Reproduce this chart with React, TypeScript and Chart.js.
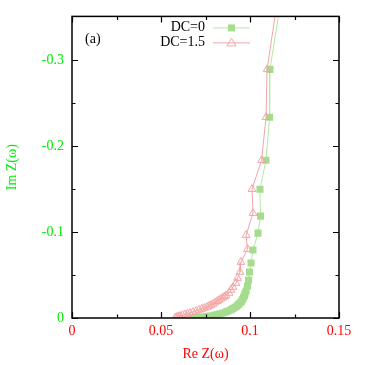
import React, { useEffect, useRef } from "react";
import { Chart, registerables } from "chart.js";

Chart.register(...registerables);

// DC = 0 series (Re Z, Im Z)
const dc0Re = [0.1174, 0.1112, 0.111, 0.109, 0.1056, 0.1059, 0.1045, 0.1017, 0.1006, 0.0997, 0.0992, 0.0986, 0.0978, 0.0972, 0.0969, 0.0963, 0.0958, 0.0952, 0.0944, 0.0935, 0.0927, 0.0916, 0.0904, 0.0893, 0.0876, 0.0865, 0.0848, 0.0831, 0.0815, 0.0795, 0.0775, 0.0756, 0.0736, 0.0719, 0.0702, 0.0688, 0.0674];
const dc0Im = [-0.37, -0.2895, -0.2337, -0.1837, -0.15, -0.1186, -0.0988, -0.0791, -0.064, -0.0535, -0.0442, -0.0372, -0.0314, -0.0285, -0.0262, -0.0238, -0.0215, -0.0192, -0.0174, -0.0157, -0.014, -0.0126, -0.011, -0.0095, -0.0081, -0.007, -0.0058, -0.0049, -0.0041, -0.0031, -0.0023, -0.0017, -0.0012, -0.0006, -0.0002, 0.0, 0.0];

// DC = 1.5 series (Re Z, Im Z)
const dc15Re = [0.1154, 0.1096, 0.109, 0.1065, 0.1011, 0.1017, 0.0978, 0.0986, 0.0949, 0.0944, 0.093, 0.0921, 0.0904, 0.0893, 0.0882, 0.0865, 0.0857, 0.0848, 0.0837, 0.0826, 0.0815, 0.0803, 0.0792, 0.0781, 0.077, 0.0758, 0.0744, 0.073, 0.0713, 0.0697, 0.068, 0.0663, 0.0649, 0.0635, 0.0621, 0.0607, 0.0598, 0.059, 0.0581];
const dc15Im = [-0.37, -0.2895, -0.2337, -0.1837, -0.15, -0.1221, -0.0965, -0.0802, -0.0651, -0.0535, -0.0465, -0.0407, -0.036, -0.0326, -0.0291, -0.0262, -0.025, -0.0238, -0.0223, -0.0209, -0.0195, -0.018, -0.0165, -0.0151, -0.014, -0.0128, -0.0116, -0.0105, -0.0093, -0.0081, -0.007, -0.0058, -0.0049, -0.0041, -0.0033, -0.0023, -0.0017, -0.0012, -0.0006];

const seriesNames = ["DC=0", "DC=1.5"];
const xTickValues = [0, 0.05, 0.1, 0.15];
const xTickLabels = ["0", "0.05", "0.1", "0.15"];
const xMinorValues = [0.025, 0.075, 0.125];
const yTickValues = [0, -0.1, -0.2, -0.3];
const yTickLabels = ["0", "-0.1", "-0.2", "-0.3"];
const yMinorValues = [-0.05, -0.15, -0.25];
const xTitle = "Re Z(ω)";
const yTitle = "Im Z(ω)";
const panelLabel = "(a)";

const GREEN_TEXT = "#00ee00";
const RED_TEXT = "#ff0000";
const GREEN_LINE = "#b4e8a4";
const GREEN_MARK = "#a6dc8e";
const RED_LINE = "#f4a4a4";
const FONT = "'Liberation Serif', 'DejaVu Serif', serif";

const framePlugin = {
  id: "frame",
  afterDatasetsDraw(chart: any) {
    const { ctx, chartArea } = chart;
    const { left, right, top, bottom } = chartArea;
    const xs = chart.scales.x;
    const ys = chart.scales.y;
    ctx.save();
    ctx.strokeStyle = "#000";
    ctx.lineWidth = 1.5;
    ctx.strokeRect(left, top, right - left, bottom - top);
    ctx.lineWidth = 1.2;
    const major = 6;
    const minor = 3.5;
    ctx.beginPath();
    const xt = (v: number, len: number) => {
      const p = Math.round(xs.getPixelForValue(v)) + 0.5;
      ctx.moveTo(p, bottom);
      ctx.lineTo(p, bottom - len);
      ctx.moveTo(p, top);
      ctx.lineTo(p, top + len);
    };
    const yt = (v: number, len: number) => {
      const p = Math.round(ys.getPixelForValue(v)) + 0.5;
      ctx.moveTo(left, p);
      ctx.lineTo(left + len, p);
      ctx.moveTo(right, p);
      ctx.lineTo(right - len, p);
    };
    xTickValues.forEach((v) => xt(v, major));
    xMinorValues.forEach((v) => xt(v, minor));
    yTickValues.forEach((v) => yt(v, major));
    yMinorValues.forEach((v) => yt(v, minor));
    ctx.stroke();

    // panel label
    ctx.fillStyle = "#000";
    ctx.font = `14px ${FONT}`;
    ctx.textAlign = "left";
    ctx.textBaseline = "middle";
    ctx.fillText(panelLabel, left + 13, top + 23);

    // legend
    const rows = [
      { y: top + 11, ds: chart.data.datasets[0] },
      { y: top + 26, ds: chart.data.datasets[1] },
    ];
    const textRight = left + 133;
    const lx0 = left + 141;
    const lx1 = left + 178;
    const mx = (lx0 + lx1) / 2;
    rows.forEach((r, i) => {
      ctx.fillStyle = "#000";
      ctx.textAlign = "right";
      ctx.fillText(seriesNames[i], textRight, r.y);
      ctx.strokeStyle = r.ds.borderColor;
      ctx.lineWidth = 1;
      ctx.beginPath();
      ctx.moveTo(lx0, r.y + 0.5);
      ctx.lineTo(lx1, r.y + 0.5);
      ctx.stroke();
      if (i === 0) {
        ctx.fillStyle = r.ds.pointBackgroundColor;
        ctx.fillRect(mx - 3.5, r.y - 3, 7, 7);
      } else {
        ctx.strokeStyle = r.ds.pointBorderColor;
        ctx.beginPath();
        ctx.moveTo(mx, r.y - 4);
        ctx.lineTo(mx + 4.5, r.y + 3.5);
        ctx.lineTo(mx - 4.5, r.y + 3.5);
        ctx.closePath();
        ctx.stroke();
      }
    });
    ctx.restore();
  },
};

export default function App() {
  const ref = useRef<HTMLCanvasElement | null>(null);
  useEffect(() => {
    if (!ref.current) return;
    const d0 = dc0Re.map((x, i) => ({ x, y: dc0Im[i] }));
    const d1 = dc15Re.map((x, i) => ({ x, y: dc15Im[i] }));
    const chart = new Chart(ref.current, {
      type: "scatter",
      data: {
        datasets: [
          {
            label: seriesNames[0],
            data: d0,
            showLine: true,
            borderColor: GREEN_LINE,
            borderWidth: 1,
            pointStyle: "rect",
            pointRadius: 5,
            pointBackgroundColor: GREEN_MARK,
            pointBorderColor: GREEN_MARK,
            pointBorderWidth: 0,
            order: 2,
          },
          {
            label: seriesNames[1],
            data: d1,
            showLine: true,
            borderColor: RED_LINE,
            borderWidth: 1,
            pointStyle: "triangle",
            pointRadius: 4.5,
            pointBackgroundColor: "rgba(255,255,255,0)",
            pointBorderColor: RED_LINE,
            pointBorderWidth: 1,
            order: 1,
          },
        ],
      } as any,
      options: {
        animation: false,
        responsive: false,
        devicePixelRatio: 1,
        layout: { padding: { top: 16, right: 26, left: 0, bottom: 0 } },
        plugins: { legend: { display: false }, tooltip: { enabled: false } },
        scales: {
          x: {
            type: "linear",
            min: 0,
            max: 0.15,
            grid: { display: false, drawTicks: false },
            border: { display: false },
            afterBuildTicks: (s: any) => {
              s.ticks = xTickValues.map((v) => ({ value: v }));
            },
            afterFit: (s: any) => {
              s.height = 47;
            },
            ticks: {
              color: RED_TEXT,
              font: { family: FONT, size: 14 },
              padding: 5,
              maxRotation: 0,
              autoSkip: false,
              callback: (v: any) => {
                const i = xTickValues.findIndex((t) => Math.abs(t - v) < 1e-9);
                return i >= 0 ? xTickLabels[i] : "";
              },
            },
            title: {
              display: true,
              text: xTitle,
              color: RED_TEXT,
              font: { family: FONT, size: 14 },
              padding: { top: 0, bottom: 2 },
            },
          },
          y: {
            type: "linear",
            min: -0.3512,
            max: 0,
            reverse: true,
            grid: { display: false, drawTicks: false },
            border: { display: false },
            afterBuildTicks: (s: any) => {
              s.ticks = yTickValues.map((v) => ({ value: v }));
            },
            afterFit: (s: any) => {
              s.width = 72;
            },
            ticks: {
              color: GREEN_TEXT,
              font: { family: FONT, size: 14 },
              padding: 8,
              autoSkip: false,
              callback: (v: any) => {
                const i = yTickValues.findIndex((t) => Math.abs(t - v) < 1e-9);
                return i >= 0 ? yTickLabels[i] : "";
              },
            },
            title: {
              display: true,
              text: yTitle,
              color: GREEN_TEXT,
              font: { family: FONT, size: 14 },
              padding: { top: 4, bottom: 0 },
            },
          },
        },
      } as any,
      plugins: [framePlugin],
    });
    return () => chart.destroy();
  }, []);
  return (
    <div style={{ position: "fixed", left: 0, top: 0, width: 365, height: 365, background: "#fff" }}>
      <canvas ref={ref} width={365} height={365} style={{ width: 365, height: 365 }} />
    </div>
  );
}
